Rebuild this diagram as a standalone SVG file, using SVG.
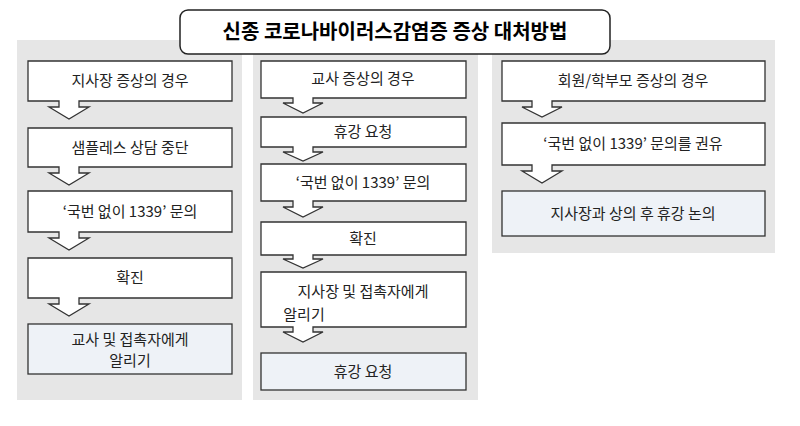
<svg xmlns="http://www.w3.org/2000/svg" width="800" height="426" viewBox="0 0 800 426">
<style>
.bg{fill:#e6e6e6}
.b{fill:#fff;stroke:#333;stroke-width:1.3}
.f{fill:#eef2f7;stroke:#333;stroke-width:1.3}
text{font-family:"Noto Sans CJK KR","Noto Sans",sans-serif;font-size:15px;fill:#222;text-anchor:middle}
.t{font-size:20px;font-weight:bold;fill:#000}
</style>
<rect width="800" height="426" fill="#fff"/>
<rect class="bg" x="17" y="40" width="225" height="360"/>
<rect class="bg" x="253" y="40" width="225" height="360"/>
<rect class="bg" x="492" y="40" width="283" height="213"/>
<g id="title"><rect x="180" y="10" width="430" height="44" rx="8" fill="#fff" stroke="#222" stroke-width="1.5"/><text class="t" x="395" y="39">신종 코로나바이러스감염증 증상 대처방법</text></g>
<g id="left">
<g id="l1"><path class="b" d="M28 61H232V101H79V107H89L69 119L49 107H59V101H28Z"/><text x="130" y="86">지사장 증상의 경우</text></g>
<g id="l2"><path class="b" d="M28 128H232V167H79V173H89L69 185L49 173H59V167H28Z"/><text x="130" y="153">샘플레스 상담 중단</text></g>
<g id="l3"><path class="b" d="M28 191H232V232H79V238H89L69 250L49 238H59V232H28Z"/><text x="130" y="217">‘국번 없이 1339’ 문의</text></g>
<g id="l4"><path class="b" d="M28 258H232V298H79V304H89L69 316L49 304H59V298H28Z"/><text x="130" y="283">확진</text></g>
<g id="l5"><rect class="f" x="28" y="324" width="204" height="50"/><text x="130" y="345">교사 및 접촉자에게</text><text x="130" y="366">알리기</text></g>
</g>
<g id="middle">
<g id="m1"><path class="b" d="M261 61H466V98H313V103H323L303 113L283 103H293V98H261Z"/><text x="363" y="84">교사 증상의 경우</text></g>
<g id="m2"><path class="b" d="M261 117H466V147H313V152H323L303 161L283 152H293V147H261Z"/><text x="363" y="137">휴강 요청</text></g>
<g id="m3"><path class="b" d="M261 164H466V201H313V207H323L303 217L283 207H293V201H261Z"/><text x="363" y="188">‘국번 없이 1339’ 문의</text></g>
<g id="m4"><path class="b" d="M261 222H466V255H313V259H323L303 268L283 259H293V255H261Z"/><text x="363" y="244">확진</text></g>
<g id="m5"><path class="b" d="M261 272H466V327H313V332H323L303 342L283 332H293V327H261Z"/><text x="363" y="297">지사장 및 접촉자에게</text><text x="304" y="320">알리기</text></g>
<g id="m6"><rect class="f" x="261" y="353" width="205" height="37"/><text x="363" y="377">휴강 요청</text></g>
</g>
<g id="right">
<g id="r1"><path class="b" d="M502 61H765V101H552V107H562L542 117L522 107H532V101H502Z"/><text x="633" y="86">회원/학부모 증상의 경우</text></g>
<g id="r2"><path class="b" d="M502 123H765V165H552V171H562L542 183L522 171H532V165H502Z"/><text x="633" y="149">‘국번 없이 1339’ 문의를 권유</text></g>
<g id="r3"><rect class="f" x="502" y="191" width="263" height="45"/><text x="633" y="219">지사장과 상의 후 휴강 논의</text></g>
</g>
<g id="connectors"/>
</svg>
